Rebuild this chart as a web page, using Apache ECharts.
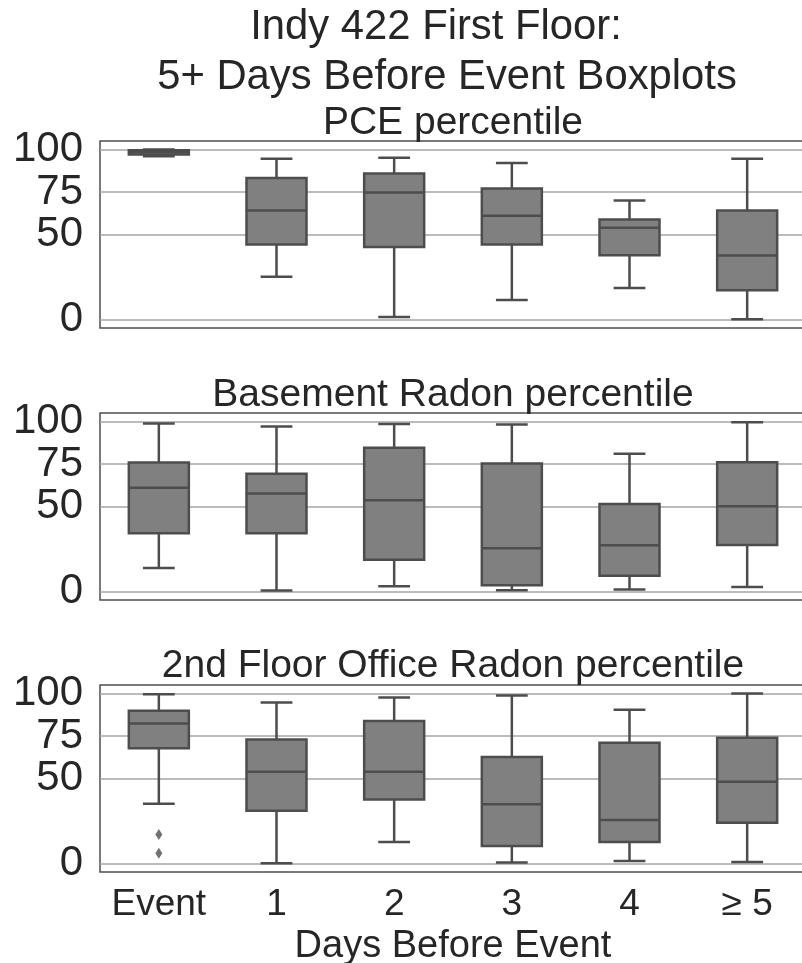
<!DOCTYPE html>
<html>
<head>
<meta charset="utf-8">
<style>
  html, body { margin: 0; padding: 0; background: #ffffff; }
  #chart { width: 802px; height: 963px; }
</style>
<script src="https://cdn.jsdelivr.net/npm/echarts@6/dist/echarts.min.js"></script>
</head>
<body>
<div id="chart"></div>
<script>
// Categories on the shared x axis
const categories = ['Event', '1', '2', '3', '4', '\u2265 5'];

// Box statistics per category: [lower whisker, Q1, median, Q3, upper whisker]
const pceStats = [
  [96, 97, 98.5, 99.5, 100],
  [25.1, 44.1, 64.1, 83.3, 94.5],
  [1.5, 42.7, 74.7, 85.9, 95.1],
  [11.4, 44.1, 61, 77.1, 92.1],
  [18.6, 37.8, 53.9, 58.8, 70],
  [0.2, 17.2, 37.6, 64.1, 94.5]
];
const basementStats = [
  [13.8, 34.3, 61.1, 75.9, 98.8],
  [0.6, 34.3, 57.6, 69.3, 97.1],
  [3.1, 18.7, 53.7, 84.5, 98.5],
  [0.8, 3.7, 25.5, 75.3, 98.3],
  [1.2, 9.3, 27.2, 51.5, 81.1],
  [2.7, 27.3, 50.2, 76.1, 99.6]
];
const officeStats = [
  [35.2, 67.8, 82.4, 89.9, 99.6],
  [0.2, 31.1, 53.9, 72.9, 94.7],
  [12.7, 37.7, 53.9, 83.8, 97.7],
  [0.6, 10.3, 34.9, 62.7, 98.8],
  [1.5, 12.7, 25.6, 71.1, 90.4],
  [0.9, 24, 48.1, 74, 100]
];
// Outliers: [category index, value]
const officeOutliers = [[0, 17], [0, 6]];

const yTicks = [0, 50, 75, 100];
const panelTitles = ['PCE percentile', 'Basement Radon percentile', '2nd Floor Office Radon percentile'];
const mainTitleLines = ['Indy 422 First Floor:', '5+ Days Before Event Boxplots'];
const xAxisName = 'Days Before Event';

const FONT = '"Liberation Sans", Arial, Helvetica, sans-serif';
const TEXT = '#262626';
const EDGE = '#4d4d4d';
const FILL = '#808080';
const GRIDLINE = '#a6a6a6';

const panelTops = [141, 413, 685];
const panelHeight = 187;

function renderBox(params, api) {
  const x = api.value(0);
  const low = api.coord([x, api.value(1)]);
  const q1 = api.coord([x, api.value(2)]);
  const med = api.coord([x, api.value(3)]);
  const q3 = api.coord([x, api.value(4)]);
  const high = api.coord([x, api.value(5)]);
  const band = api.size([1, 0])[0];
  const boxW = band * 0.51;
  const capW = boxW * 0.53;
  const cx = med[0];
  const line = { stroke: EDGE, lineWidth: 2.5, fill: null };
  return {
    type: 'group',
    children: [
      { type: 'line', shape: { x1: cx, y1: q1[1], x2: cx, y2: low[1] }, style: line },
      { type: 'line', shape: { x1: cx, y1: q3[1], x2: cx, y2: high[1] }, style: line },
      { type: 'line', shape: { x1: cx - capW / 2, y1: low[1], x2: cx + capW / 2, y2: low[1] }, style: line },
      { type: 'line', shape: { x1: cx - capW / 2, y1: high[1], x2: cx + capW / 2, y2: high[1] }, style: line },
      { type: 'rect', shape: { x: cx - boxW / 2, y: q3[1], width: boxW, height: q1[1] - q3[1] },
        style: { fill: FILL, stroke: EDGE, lineWidth: 2.5 } },
      { type: 'line', shape: { x1: cx - boxW / 2, y1: med[1], x2: cx + boxW / 2, y2: med[1] }, style: line }
    ]
  };
}

const statsByPanel = [pceStats, basementStats, officeStats];

const grids = panelTops.map(t => ({
  left: 100, width: 706, top: t, height: panelHeight,
  outerBoundsMode: 'none', containLabel: false,
  show: true, borderColor: EDGE, borderWidth: 1.5, backgroundColor: 'transparent'
}));

const xAxes = panelTops.map((t, i) => ({
  type: 'category', gridIndex: i, data: categories, boundaryGap: true,
  axisLine: { show: false }, axisTick: { show: false },
  splitLine: { show: false },
  axisLabel: { show: i === 2, interval: 0, hideOverlap: false, fontSize: 37, color: TEXT, fontFamily: FONT, margin: 14 },
  name: i === 2 ? xAxisName : '',
  nameLocation: 'middle', nameGap: 56,
  nameTextStyle: { fontSize: 38, color: TEXT, fontFamily: FONT }
}));

const yAxes = panelTops.map((t, i) => ({
  type: 'value', gridIndex: i, min: -5, max: 105,
  axisLine: { show: false },
  axisTick: { show: false, customValues: yTicks },
  axisLabel: {
    fontSize: 42, color: TEXT, fontFamily: FONT, margin: 17, customValues: yTicks,
    showMinLabel: true, showMaxLabel: true, hideOverlap: false
  },
  splitLine: { show: true, lineStyle: { color: GRIDLINE, width: 1.5 } }
}));

const series = statsByPanel.map((stats, i) => ({
  type: 'custom', xAxisIndex: i, yAxisIndex: i, z: 3,
  renderItem: renderBox,
  encode: { x: 0, y: [1, 2, 3, 4, 5] },
  data: stats.map((s, k) => [k].concat(s))
}));
series.push({
  type: 'scatter', xAxisIndex: 2, yAxisIndex: 2, z: 4,
  symbol: 'diamond', symbolSize: [7, 11],
  itemStyle: { color: EDGE },
  data: officeOutliers
});

const titles = [
  { text: mainTitleLines[0], left: 436, top: 6, size: 41.8 },
  { text: mainTitleLines[1], left: 447, top: 56, size: 41.8 },
  { text: panelTitles[0], left: 453, top: 104, size: 39 },
  { text: panelTitles[1], left: 453, top: 376, size: 39 },
  { text: panelTitles[2], left: 453, top: 647, size: 39 }
].map(t => ({
  text: t.text, left: t.left, top: t.top, textAlign: 'center', padding: 0,
  textStyle: { fontSize: t.size, fontWeight: 'normal', color: TEXT, fontFamily: FONT }
}));

const chart = echarts.init(document.getElementById('chart'), null, { renderer: 'canvas' });
chart.setOption({
  backgroundColor: '#ffffff',
  animation: false,
  title: titles,
  grid: grids,
  xAxis: xAxes,
  yAxis: yAxes,
  series: series
});
</script>
</body>
</html>
